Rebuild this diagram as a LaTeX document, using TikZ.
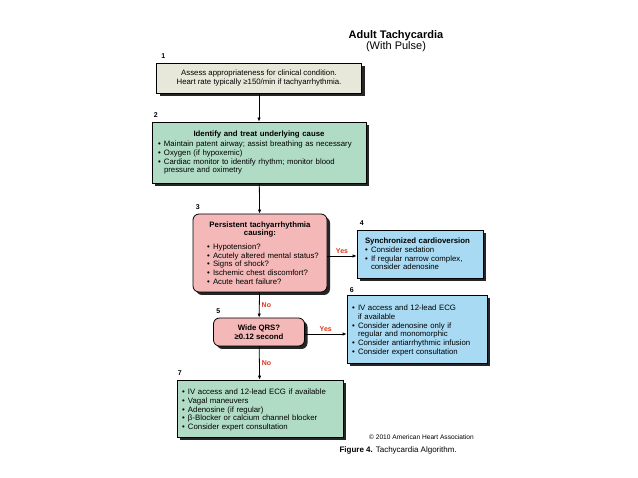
\documentclass[tikz,border=0pt]{standalone}
\usepackage{fontspec}
\setmainfont{Liberation Sans}
\usetikzlibrary{arrows.meta, positioning, shadows}

\definecolor{assessgray}{RGB}{232,232,218}
\definecolor{treatgreen}{RGB}{176,220,198}
\definecolor{causepink}{RGB}{244,184,184}
\definecolor{shockblue}{RGB}{168,218,243}
\definecolor{yesnored}{RGB}{222,52,30}

% bullet line with hanging indent
\newcommand{\bitem}{\par\hangindent=6pt\hangafter=1\noindent\makebox[6pt][l]{\textbullet}}

\tikzset{
  algbox/.style={draw=black, line width=0.8pt, inner ysep=3pt,
    font=\fontsize{7.8}{8.7}\selectfont,
    drop shadow={shadow xshift=3pt, shadow yshift=-3pt, fill=black!85, opacity=1}},
  assessbox/.style={algbox, fill=assessgray, align=center},
  treatbox/.style={algbox, fill=treatgreen, align=left},
  causebox/.style={algbox, fill=causepink, rounded corners=6pt, align=left},
  shockbox/.style={algbox, fill=shockblue, align=left},
  numlabel/.style={font=\bfseries\fontsize{7}{7}\selectfont, inner sep=1pt},
  answer/.style={font=\bfseries\fontsize{7}{7}\selectfont, text=yesnored, inner sep=2pt},
  flow/.style={line width=0.8pt, -{Latex[length=4pt,width=3.5pt]}}
}

\begin{document}
\begin{tikzpicture}[x=1pt, y=-1pt]
  \useasboundingbox[fill=white] (0,0) rectangle (638,478);

  % Title
  \node[font=\fontsize{11}{11}\selectfont, align=center] (title) at (396,41)
    {\textbf{Adult Tachycardia}\\(With Pulse)};

  % Boxes
  \node[assessbox, minimum width=205pt, minimum height=30pt] (assess) at (259,78)
    {Assess appropriateness for clinical condition.\\Heart rate typically ≥150/min if tachyarrhythmia.};

  \node[treatbox, text width=202pt, inner xsep=6pt, minimum height=61pt] (treat) at (259,152.5)
    {{\centering\textbf{Identify and treat underlying cause}\par}\vspace{2pt}
     \bitem Maintain patent airway; assist breathing as necessary
     \bitem Oxygen (if hypoxemic)
     \bitem Cardiac monitor to identify rhythm; monitor blood\newline pressure and oximetry\par};

  \node[causebox, text width=118pt, inner xsep=8pt, minimum height=78pt] (cause) at (260,253)
    {{\centering\textbf{Persistent tachyarrhythmia\\causing:}\par}\vspace{5pt}
     \leftskip=6pt
     \bitem Hypotension?
     \bitem Acutely altered mental status?
     \bitem Signs of shock?
     \bitem Ischemic chest discomfort?
     \bitem Acute heart failure?\par};

  \node[shockbox, text width=110pt, inner xsep=8pt, minimum height=48pt] (cardiovert) at (420,254)
    {\textbf{Synchronized cardioversion}
     \bitem Consider sedation
     \bitem If regular narrow complex,\newline consider adenosine\par};

  \node[causebox, align=center, font=\bfseries\fontsize{7.8}{8.7}\selectfont,
    minimum width=91pt, minimum height=28pt] (qrs) at (259,332)
    {Wide QRS?\\≥0.12 second};

  \node[shockbox, text width=130pt, inner xsep=5pt, minimum height=68pt] (wide) at (417,329)
    {\bitem IV access and 12-lead ECG\newline if available
     \bitem Consider adenosine only if\newline regular and monomorphic
     \bitem Consider antiarrhythmic infusion
     \bitem Consider expert consultation\par};

  \node[treatbox, text width=156pt, inner xsep=5pt, minimum height=57pt] (narrow) at (260,408.5)
    {\bitem IV access and 12-lead ECG if available
     \bitem Vagal maneuvers
     \bitem Adenosine (if regular)
     \bitem β-Blocker or calcium channel blocker
     \bitem Consider expert consultation\par};

  % Step numbers
  \node[numlabel, above right=3pt and 4pt of assess.north west] {1};
  \node[numlabel, above right=3pt and 1pt of treat.north west] {2};
  \node[numlabel, above right=3pt and 2pt of cause.north west] {3};
  \node[numlabel, above right=3pt and 2pt of cardiovert.north west] {4};
  \node[numlabel, above right=3pt and 2pt of qrs.north west] {5};
  \node[numlabel, above right=1pt and 2pt of wide.north west] {6};
  \node[numlabel, above right=3pt and 0pt of narrow.north west] {7};

  % Connectors
  \draw[flow] (assess) -- (treat);
  \draw[flow] (treat) -- (cause);
  \draw[flow] (cause) -- node[answer, right] {No} (qrs);
  \draw[flow] (qrs) -- node[answer, right] {No} (narrow);
  \coordinate (yesA) at ([yshift=-3pt]cause.east);
  \draw[flow] (yesA) -- node[answer, above] {Yes} (yesA -| cardiovert.west);
  \coordinate (yesB) at ([yshift=-2pt]qrs.east);
  \draw[flow] (yesB) -- node[answer, above] {Yes} (yesB -| wide.west);

  % Caption
  \node[font=\fontsize{6.6}{7}\selectfont] (copyright) at (421.5,437) {© 2010 American Heart Association};
  \node[font=\fontsize{8}{9}\selectfont, anchor=west] (caption) at (336,450)
    {\textbf{Figure 4.} Tachycardia Algorithm.};
\end{tikzpicture}
\end{document}
